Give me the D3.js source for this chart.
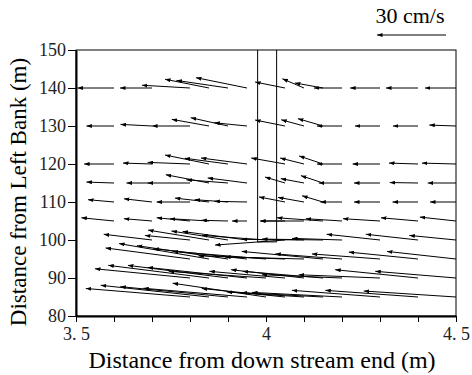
<!DOCTYPE html>
<html>
<head>
<meta charset="utf-8">
<script src="https://cdn.jsdelivr.net/npm/d3@7"></script>
<style>
  body { margin: 0; background: #fff; }
  svg { display: block; }
  text { font-family: "Liberation Serif", "Times New Roman", serif; fill: #000; }
</style>
</head>
<body>
<div id="chart"></div>
<script>
// measurement grid
const gridX = [3.6, 3.7, 3.8, 3.85, 3.9, 3.95, 4.0, 4.05, 4.1, 4.15, 4.2, 4.3, 4.4, 4.5];
const rowY = [140, 130, 120, 115, 110, 105, 100, 95, 90, 85];

// velocity components in cm/s (u along x, v along y), null = no data
const U = [
  [-15.9, -13.9, -20.9, -19.1, -22.4, -22.2, null, -13.0, -9.4, -12.2, -12.2, -13.0, -13.9, -13.5],
  [-12.0, -13.7, -16.5, -16.2, -16.2, -14.2, null, -13.0, -9.9, -10.9, -10.9, -10.9, -10.9, -11.6],
  [-13.0, -12.6, -18.4, -19.1, -18.8, -20.0, null, -14.7, -10.4, -10.4, -10.9, -11.9, -12.6, -14.8],
  [-12.0, -11.1, -18.4, -18.8, -18.1, -17.1, null, -8.7, -10.1, -9.6, -10.1, -11.3, -12.3, -12.3],
  [-11.3, -12.2, -14.5, -14.8, -14.5, -14.2, null, -11.3, -11.3, -9.1, -9.4, -11.3, -11.1, -11.3],
  [-14.2, -12.2, -14.5, -17.0, -11.6, -6.5, null, -10.9, -18.7, -20.0, -15.7, -16.1, -16.1, -15.7],
  [null, -21.0, -19.6, -26.5, -24.6, -28.0, -27.8, -30.4, -27.0, -26.5, -21.7, -23.2, -22.7, -20.3],
  [null, null, -36.7, -39.1, -39.6, -40.7, -40.6, -37.7, -34.3, -35.3, -29.0, -29.6, -30.1, -30.0],
  [null, null, -41.3, -43.8, -43.5, -43.2, -42.3, -32.9, -31.7, -34.9, -34.8, -35.3, -36.0, -35.1],
  [null, null, -45.3, -47.1, -46.8, -45.1, -40.6, -36.2, -33.6, -35.3, -39.1, -38.3, -40.3, -40.1]
];
const V = [
  [0, 0, 1.2, 3.8, 3.3, 4.5, null, 2.6, 4.0, 2.2, 0, 0, 0, 0],
  [0, 0.7, 0, 2.9, 3.6, 1.4, null, 2.6, 2.7, 3.2, 0, 0, 0, 0.4],
  [0, 0.4, 0.7, 3.9, 2.5, 2.6, null, 2.6, 2.6, 3.5, 0, 0, 0.4, 0.4],
  [0.4, 0, 0, 3.6, 1.4, 2.2, null, 2.6, 1.9, 3.2, 0, 0, 0.2, 0],
  [1.0, 1.4, 0, 1.7, 1.0, 0.3, null, 2.2, 2.0, 2.7, 0, 0, 0, 0],
  [1.4, 1.0, 1.4, 1.0, 0.3, 0, null, 0, 0, 1.4, 1.0, 1.0, 1.4, 1.7],
  [null, 2.5, 2.0, 4.3, 3.9, 3.7, 2.0, -2.2, 0.3, 0.4, 0.7, 2.5, 2.5, 2.0],
  [null, null, 4.8, 6.7, 5.8, 4.5, 3.3, 1.4, 0.9, 3.3, 2.2, 2.2, 3.0, 3.3],
  [null, null, 4.0, 5.5, 5.5, 4.6, 2.9, 2.9, 3.6, 2.9, 1.4, 1.4, 3.6, 2.9],
  [null, null, 3.7, 5.1, 4.5, 3.8, 6.0, 3.7, 2.2, 1.9, 2.0, 2.9, 2.9, 2.6]
];

// structure (wall) outline
const wallX = [3.978, 4.028];
const wallY = [150, 99.5];

const refSpeed = 30;   // cm/s
const xTicks = [3.5, 3.6, 3.7, 3.8, 3.9, 4.0, 4.1, 4.2, 4.3, 4.4, 4.5];
const xTickLabels = {3.5: "3. 5", 4: "4", 4.5: "4. 5"};
const yTicks = [80, 90, 100, 110, 120, 130, 140, 150];

const W = 472, H = 375;
const margin = {top: 50, right: 16, bottom: 59, left: 76};

const svg = d3.select("#chart").append("svg")
  .attr("width", W)
  .attr("height", H);

const x = d3.scaleLinear().domain([3.5, 4.5]).range([margin.left, W - margin.right]);
const y = d3.scaleLinear().domain([80, 150]).range([H - margin.bottom, margin.top]);
// pixels per cm/s for the arrows
const vs = d3.scaleLinear().domain([0, refSpeed]).range([0, 69]);

svg.append("defs").append("marker")
  .attr("id", "head")
  .attr("viewBox", "0 -2 5.5 4")
  .attr("refX", 5.5).attr("refY", 0)
  .attr("markerUnits", "userSpaceOnUse")
  .attr("markerWidth", 5.5).attr("markerHeight", 4)
  .attr("orient", "auto")
  .append("path")
  .attr("d", "M0,-2L5.5,0L0,2Z")
  .attr("fill", "#000");

// flatten grid into vectors
let vecs = [];
rowY.forEach(function(yy, i) {
  gridX.forEach(function(xx, j) {
    if (U[i][j] == null) return;
    vecs.push({x: xx, y: yy, u: U[i][j], v: V[i][j]});
  });
});

// frame
svg.append("rect")
  .attr("x", x(3.5)).attr("y", y(150))
  .attr("width", x(4.5) - x(3.5)).attr("height", y(80) - y(150))
  .attr("fill", "none").attr("stroke", "#000").attr("stroke-width", 1);

// wall
svg.append("path")
  .attr("d", d3.line()([
    [x(wallX[0]), y(wallY[0])], [x(wallX[0]), y(wallY[1])],
    [x(wallX[1]), y(wallY[1])], [x(wallX[1]), y(wallY[0])]
  ]))
  .attr("fill", "none").attr("stroke", "#000").attr("stroke-width", 1);

// arrows
svg.append("g").selectAll("line")
  .data(vecs)
  .join("line")
  .attr("x1", d => x(d.x))
  .attr("y1", d => y(d.y))
  .attr("x2", d => x(d.x) + vs(d.u))
  .attr("y2", d => y(d.y) - vs(d.v))
  .attr("stroke", "#000")
  .attr("stroke-width", 1)
  .attr("marker-end", "url(#head)");

// axes
const xAxis = svg.append("g")
  .attr("transform", "translate(0," + y(80) + ")")
  .call(d3.axisBottom(x).tickValues(xTicks).tickSize(6).tickSizeOuter(0).tickPadding(5)
    .tickFormat(d => xTickLabels[d] || ""));
const yAxis = svg.append("g")
  .attr("transform", "translate(" + x(3.5) + ",0)")
  .call(d3.axisLeft(y).tickValues(yTicks).tickSize(8).tickSizeOuter(0).tickPadding(2));

[xAxis, yAxis].forEach(function(g) {
  g.select(".domain").attr("stroke-width", 2);
  g.selectAll(".tick line").attr("stroke-width", 1);
  g.selectAll(".tick text")
    .style("font-family", '"Liberation Serif", serif')
    .style("fill", "#222")
    .attr("font-size", 18);
});

// axis titles
svg.append("text")
  .attr("x", 262).attr("y", 368)
  .attr("text-anchor", "middle")
  .attr("font-size", 24)
  .text("Distance from down stream end (m)");

svg.append("text")
  .attr("transform", "translate(26," + 192 + ") rotate(-90)")
  .attr("text-anchor", "middle")
  .attr("font-size", 23)
  .text("Distance from Left Bank (m)");

// reference vector
const refX = 446, refYpos = 35;
svg.append("line")
  .attr("x1", refX).attr("y1", refYpos)
  .attr("x2", refX - vs(refSpeed)).attr("y2", refYpos)
  .attr("stroke", "#000").attr("stroke-width", 1)
  .attr("marker-end", "url(#head)");
svg.append("text")
  .attr("x", 410).attr("y", 23)
  .attr("text-anchor", "middle")
  .attr("font-size", 22)
  .text(refSpeed + " cm/s");
</script>
</body>
</html>
